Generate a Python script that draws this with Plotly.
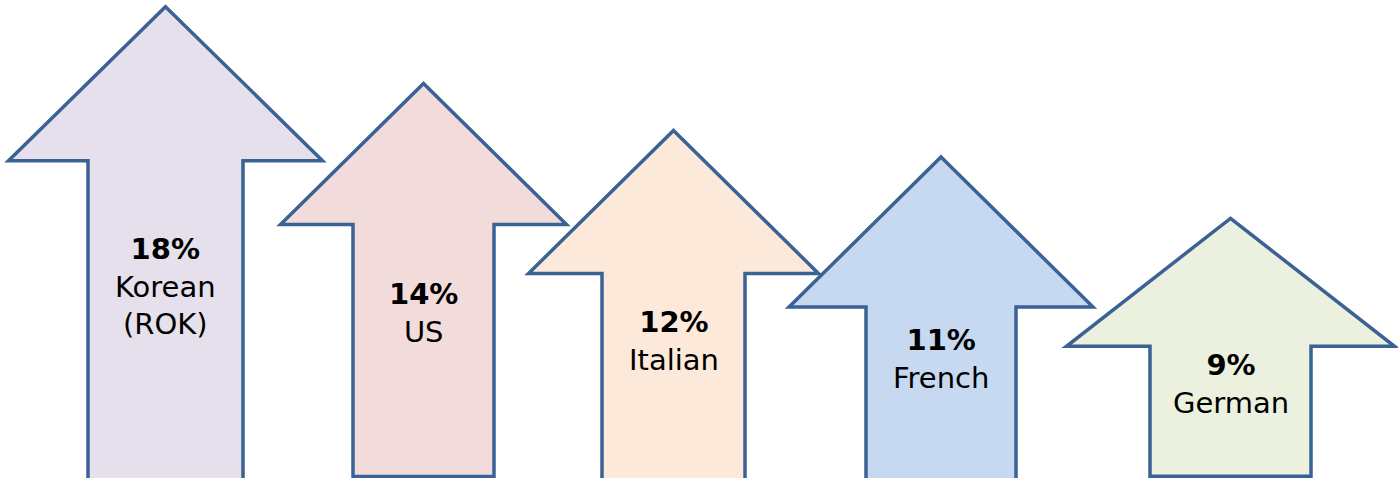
import math
import plotly.graph_objects as go

# Share of each language group
languages = ["Korean<br>(ROK)", "US", "Italian", "French", "German"]
shares = [18, 14, 12, 11, 9]

# Arrow styling and placement (x in canvas units, sizes in pixels)
centers_x = [165.5, 423.5, 673.5, 941, 1230.5]
head_half_w = [157, 143, 145, 152, 164]
head_h = [154, 141, 143, 150, 128]
shaft_half_w = [77.5, 70.5, 71.5, 75, 80.5]
shaft_len = [340, 252, 240, 200, 130]
label_mid_px = [286, 313, 341, 359, 384]
fills = ["#E5E0EC", "#F2DCDB", "#FDE9D9", "#C6D9F1", "#EBF1DE"]
outline = "#3B6295"

W, H = 1398, 478

fig = go.Figure()
# invisible trace to establish the axes
fig.add_trace(go.Scatter(x=centers_x, y=shares, mode="markers",
                         marker=dict(opacity=0), hoverinfo="skip", showlegend=False))

for i, v in enumerate(shares):
    hw, hh = head_half_w[i], head_h[i]
    sw, sl = shaft_half_w[i], shaft_len[i]
    path = (f"M 0 0 L {hw} {-hh} L {sw} {-hh} L {sw} {-hh - sl} "
            f"L {-sw} {-hh - sl} L {-sw} {-hh} L {-hw} {-hh} Z")
    fig.add_shape(type="path", path=path,
                  xref="x", yref="y",
                  xsizemode="pixel", ysizemode="pixel",
                  xanchor=centers_x[i], yanchor=v,
                  fillcolor=fills[i], line=dict(color=outline, width=3.5),
                  layer="above")

for i, v in enumerate(shares):
    fig.add_annotation(x=centers_x[i], xref="x",
                       y=1 - label_mid_px[i] / H, yref="paper",
                       text=f"<b>{v}%</b><br>{languages[i]}",
                       showarrow=False, align="center",
                       xanchor="center", yanchor="middle",
                       font=dict(family="DejaVu Sans", size=29, color="#000000"))

fig.update_layout(
    width=W, height=H,
    margin=dict(l=0, r=0, t=0, b=0),
    paper_bgcolor="white", plot_bgcolor="white",
    xaxis=dict(range=[0, W], visible=False, fixedrange=True),
    yaxis=dict(type="log", range=[0.5851, 1.2647], visible=False, fixedrange=True),
    showlegend=False,
)

fig.write_html("out.html")
